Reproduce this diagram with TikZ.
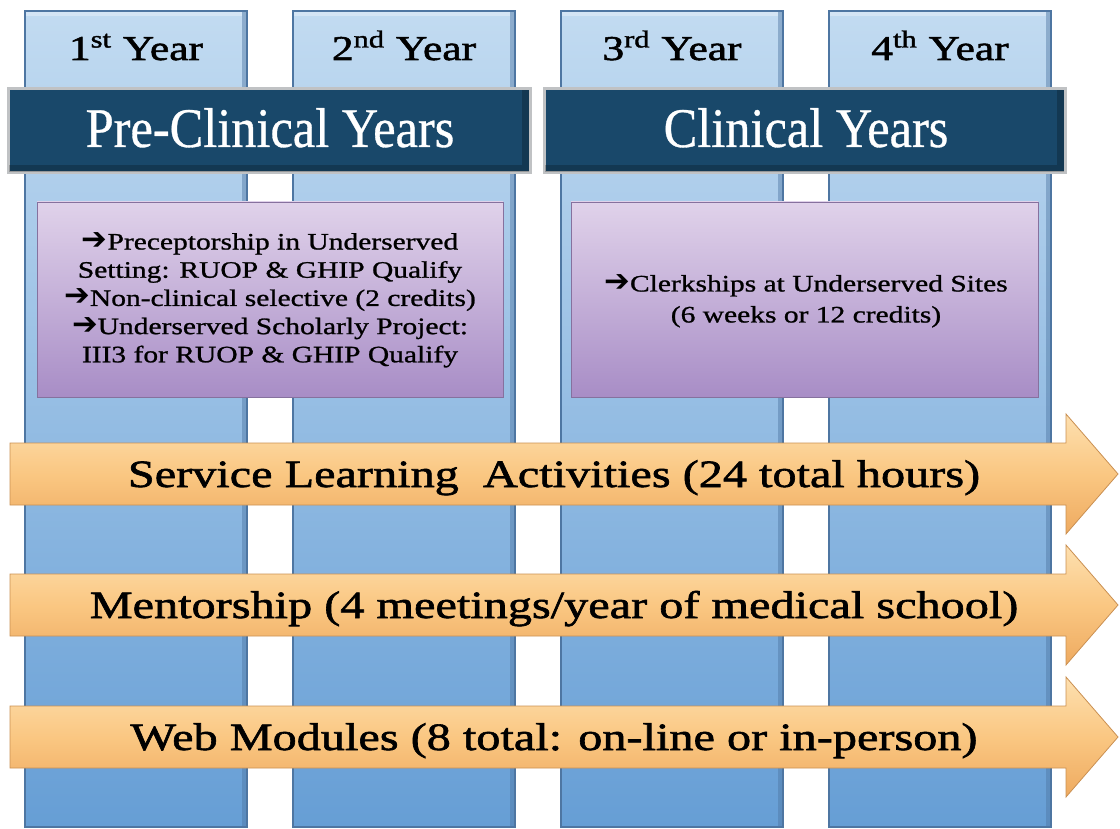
\documentclass[tikz,border=0pt]{standalone}
\usepackage{fontspec}
\setmainfont{Liberation Serif}
\newfontfamily\widefont[FakeStretch=1.25,FakeBold=1.6]{Liberation Serif}
\newfontfamily\boxfont[FakeStretch=1.25,FakeBold=1]{Liberation Serif}
\newfontfamily\narrowfont[FakeStretch=0.9,FakeBold=0.6]{Liberation Serif}
\newfontfamily\symbfont[Scale=1.3]{DejaVu Sans}
\usepackage{tikz}
\usetikzlibrary{calc}

\definecolor{coltop}{RGB}{194,219,241}
\definecolor{colbot}{RGB}{102,158,213}
\definecolor{colrim}{RGB}{78,118,162}
\definecolor{bannerblue}{RGB}{25,72,106}
\definecolor{bannerrim}{RGB}{192,194,196}
\definecolor{boxtop}{RGB}{224,210,234}
\definecolor{boxbot}{RGB}{168,141,198}
\definecolor{bandtop}{RGB}{253,224,176}
\definecolor{bandmid}{RGB}{250,199,130}
\definecolor{bandbot}{RGB}{238,170,96}

\newcommand\pointer{{\symbfont\char"2794}}

\tikzset{
    column/.style={top color=coltop, bottom color=colbot, draw=colrim, line width=0.6pt},
    banner/.style={fill=bannerblue, draw=bannerrim, line width=1.5pt},
    itembox/.style={top color=boxtop, bottom color=boxbot, draw=boxbot!80!black, line width=0.4pt},
    band/.style={top color=bandtop, bottom color=bandbot, middle color=bandmid, draw=bandbot!85!black, line width=0.4pt},
    yearlabel/.style={font=\widefont\fontsize{17.4}{20}\selectfont, anchor=base},
    bannerlabel/.style={font=\narrowfont\fontsize{28}{32}\selectfont, text=white, anchor=base},
    boxlabel/.style={font=\boxfont\fontsize{11.8}{14.1}\selectfont, align=center},
    bandlabel/.style={font=\widefont\fontsize{19.3}{22}\selectfont, anchor=base},
}

\begin{document}
\begin{tikzpicture}[x=0.5pt, y=-0.5pt]
                \pgfmathsetmacro\colw{222}
                \pgfmathsetmacro\colgap{268}
                \useasboundingbox (0,0) rectangle (1120,829);
                % year columns
                \foreach \n/\suf in {1/st,2/nd,3/rd,4/th} {%
                    \pgfmathsetmacro\xl{25+(\n-1)*\colgap}
                    \path [column] (\xl,11) rectangle ++(\colw,816);
                    \fill [colrim, opacity=0.45] (\xl+\colw-5,12) rectangle (\xl+\colw,826);
                    \fill [white, opacity=0.3] (\xl+1,12) rectangle (\xl+\colw-5,16);
                    % labels
                    \node [yearlabel] (year\n) at (\xl+\colw/2,60) {\n\textsuperscript{\suf} Year};
                }
                % period banners
                \foreach \xa/\xb in {8/530,544/1065} {%
                    \path [banner] (\xa,89) rectangle (\xb,173);
                    \fill [black, opacity=0.22] (\xa+1,165) rectangle (\xb-1,172);
                    \fill [black, opacity=0.22] (\xb-8,90) rectangle (\xb-1,165);
                }
                \node [bannerlabel] (preclin) at (270,147) {Pre-Clinical Years};
                \node [bannerlabel] (clin) at (806,147) {Clinical Years};
                % activity boxes
                \path [itembox] (37,202) rectangle (503,397);
                \path [itembox] (571,202) rectangle (1038,397);
                \node [boxlabel] (prebox) at (270,300) {\pointer Preceptorship in Underserved\\
                    Setting: RUOP \& GHIP Qualify\\
                    \pointer Non-clinical selective (2 credits)\\
                    \pointer Underserved Scholarly Project:\\
                    III3 for RUOP \& GHIP Qualify};
                \node [boxlabel, font=\boxfont\fontsize{11.8}{15.5}\selectfont] (clinbox) at (806,301)
                    {\pointer Clerkships at Underserved Sites\\(6 weeks or 12 credits)};
                % longitudinal bands
                \foreach \y/\lab/\name in {%
                    474/{Service Learning\ \ Activities (24 total hours)}/service,
                    605/{Mentorship (4 meetings/year of medical school)}/mentor,
                    737/{Web Modules (8 total: on-line or in-person)}/webmod} {%
                    \path [band] (10,\y-31) -- (1066,\y-31) -- (1066,\y-60) -- (1118,\y)
                        -- (1066,\y+60) -- (1066,\y+31) -- (10,\y+31) -- cycle;
                    \node [bandlabel] (\name) at (554,\y+13) {\lab};
                }
\end{tikzpicture}
\end{document}
